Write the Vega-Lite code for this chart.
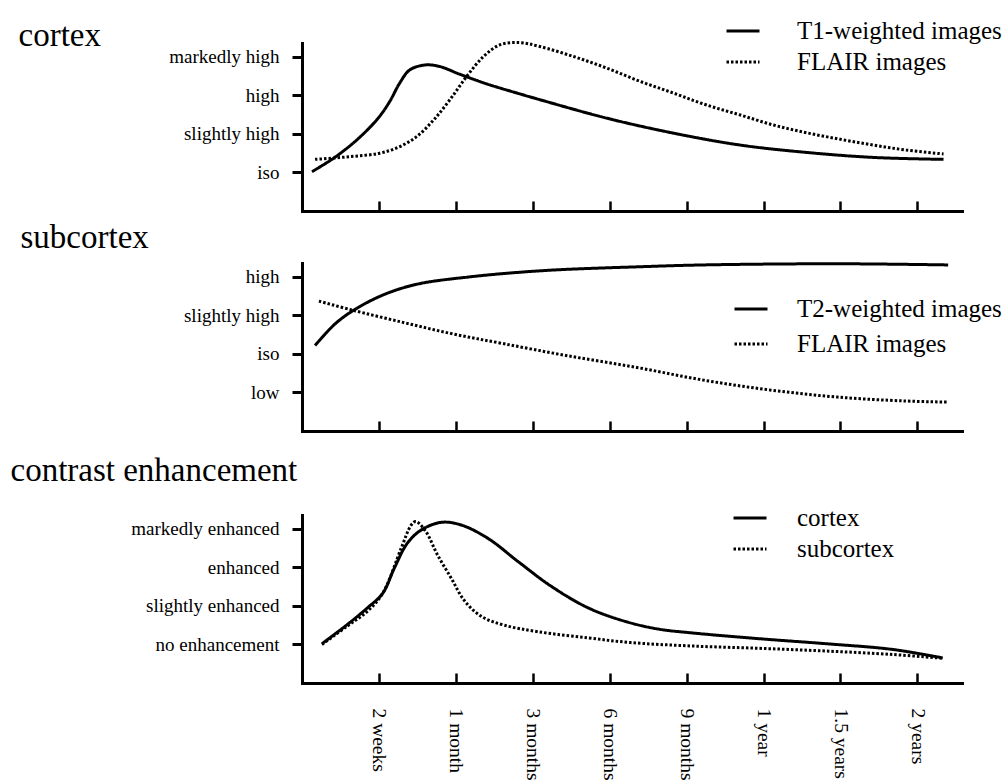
{
  "$schema": "https://vega.github.io/schema/vega-lite/v6.json",
  "background": "white",
  "padding": {"left": 10, "top": 13, "right": 2, "bottom": 2},
  "config": {
    "view": {"stroke": null},
    "font": "Liberation Serif",
    "line": {"interpolate": "catmull-rom", "stroke": "black", "strokeWidth": 3, "strokeCap": "butt"},
    "axis": {
      "domainColor": "black", "domainWidth": 3, "domainCap": "square",
      "tickColor": "black", "grid": false,
      "labelColor": "black", "labelFont": "Liberation Serif",
      "titleColor": "black", "titleFont": "Liberation Serif", "titleFontWeight": "normal"
    },
    "legend": {
      "orient": "none", "symbolType": "stroke", "symbolSize": 1089, "symbolStrokeWidth": 3,
      "symbolStrokeColor": "black", "labelFont": "Liberation Serif", "labelFontSize": 25,
      "labelColor": "black", "labelOffset": 37, "labelLimit": 400, "padding": 0, "titleFontSize": 0
    }
  },
  "datasets": {
    "d": [
      {"p": "cortex", "s": "T1-weighted images", "t": 0.13, "v": 1.02},
      {"p": "cortex", "s": "T1-weighted images", "t": 0.41, "v": 1.37},
      {"p": "cortex", "s": "T1-weighted images", "t": 0.71, "v": 1.84},
      {"p": "cortex", "s": "T1-weighted images", "t": 0.99, "v": 2.41},
      {"p": "cortex", "s": "T1-weighted images", "t": 1.14, "v": 2.84},
      {"p": "cortex", "s": "T1-weighted images", "t": 1.27, "v": 3.32},
      {"p": "cortex", "s": "T1-weighted images", "t": 1.4, "v": 3.66},
      {"p": "cortex", "s": "T1-weighted images", "t": 1.6, "v": 3.79},
      {"p": "cortex", "s": "T1-weighted images", "t": 1.79, "v": 3.75},
      {"p": "cortex", "s": "T1-weighted images", "t": 2.05, "v": 3.55},
      {"p": "cortex", "s": "T1-weighted images", "t": 2.4, "v": 3.3},
      {"p": "cortex", "s": "T1-weighted images", "t": 2.83, "v": 3.04},
      {"p": "cortex", "s": "T1-weighted images", "t": 3.09, "v": 2.89},
      {"p": "cortex", "s": "T1-weighted images", "t": 3.96, "v": 2.41},
      {"p": "cortex", "s": "T1-weighted images", "t": 4.83, "v": 2.02},
      {"p": "cortex", "s": "T1-weighted images", "t": 5.7, "v": 1.71},
      {"p": "cortex", "s": "T1-weighted images", "t": 6.56, "v": 1.52},
      {"p": "cortex", "s": "T1-weighted images", "t": 7.43, "v": 1.39},
      {"p": "cortex", "s": "T1-weighted images", "t": 8.34, "v": 1.34},
      {"p": "cortex", "s": "FLAIR images", "t": 0.17, "v": 1.34},
      {"p": "cortex", "s": "FLAIR images", "t": 0.62, "v": 1.41},
      {"p": "cortex", "s": "FLAIR images", "t": 1.01, "v": 1.5},
      {"p": "cortex", "s": "FLAIR images", "t": 1.27, "v": 1.67},
      {"p": "cortex", "s": "FLAIR images", "t": 1.49, "v": 1.93},
      {"p": "cortex", "s": "FLAIR images", "t": 1.71, "v": 2.36},
      {"p": "cortex", "s": "FLAIR images", "t": 1.92, "v": 2.88},
      {"p": "cortex", "s": "FLAIR images", "t": 2.14, "v": 3.49},
      {"p": "cortex", "s": "FLAIR images", "t": 2.36, "v": 4.01},
      {"p": "cortex", "s": "FLAIR images", "t": 2.57, "v": 4.31},
      {"p": "cortex", "s": "FLAIR images", "t": 2.83, "v": 4.37},
      {"p": "cortex", "s": "FLAIR images", "t": 3.09, "v": 4.27},
      {"p": "cortex", "s": "FLAIR images", "t": 3.53, "v": 4.01},
      {"p": "cortex", "s": "FLAIR images", "t": 3.96, "v": 3.71},
      {"p": "cortex", "s": "FLAIR images", "t": 4.4, "v": 3.36},
      {"p": "cortex", "s": "FLAIR images", "t": 4.83, "v": 3.06},
      {"p": "cortex", "s": "FLAIR images", "t": 5.26, "v": 2.75},
      {"p": "cortex", "s": "FLAIR images", "t": 5.7, "v": 2.49},
      {"p": "cortex", "s": "FLAIR images", "t": 6.13, "v": 2.23},
      {"p": "cortex", "s": "FLAIR images", "t": 6.56, "v": 2.03},
      {"p": "cortex", "s": "FLAIR images", "t": 7.0, "v": 1.86},
      {"p": "cortex", "s": "FLAIR images", "t": 7.43, "v": 1.71},
      {"p": "cortex", "s": "FLAIR images", "t": 7.86, "v": 1.58},
      {"p": "cortex", "s": "FLAIR images", "t": 8.34, "v": 1.48},
      {"p": "subcortex", "s": "T2-weighted images", "t": 0.17, "v": 2.22},
      {"p": "subcortex", "s": "T2-weighted images", "t": 0.43, "v": 2.78},
      {"p": "subcortex", "s": "T2-weighted images", "t": 0.7, "v": 3.17},
      {"p": "subcortex", "s": "T2-weighted images", "t": 1.09, "v": 3.56},
      {"p": "subcortex", "s": "T2-weighted images", "t": 1.52, "v": 3.82},
      {"p": "subcortex", "s": "T2-weighted images", "t": 2.18, "v": 4.0},
      {"p": "subcortex", "s": "T2-weighted images", "t": 2.83, "v": 4.12},
      {"p": "subcortex", "s": "T2-weighted images", "t": 3.39, "v": 4.19},
      {"p": "subcortex", "s": "T2-weighted images", "t": 4.35, "v": 4.26},
      {"p": "subcortex", "s": "T2-weighted images", "t": 5.22, "v": 4.31},
      {"p": "subcortex", "s": "T2-weighted images", "t": 6.96, "v": 4.34},
      {"p": "subcortex", "s": "T2-weighted images", "t": 8.4, "v": 4.31},
      {"p": "subcortex", "s": "FLAIR images", "t": 0.22, "v": 3.37},
      {"p": "subcortex", "s": "FLAIR images", "t": 0.65, "v": 3.14},
      {"p": "subcortex", "s": "FLAIR images", "t": 1.31, "v": 2.82},
      {"p": "subcortex", "s": "FLAIR images", "t": 1.96, "v": 2.52},
      {"p": "subcortex", "s": "FLAIR images", "t": 2.61, "v": 2.27},
      {"p": "subcortex", "s": "FLAIR images", "t": 3.43, "v": 1.96},
      {"p": "subcortex", "s": "FLAIR images", "t": 4.35, "v": 1.65},
      {"p": "subcortex", "s": "FLAIR images", "t": 5.22, "v": 1.32},
      {"p": "subcortex", "s": "FLAIR images", "t": 6.1, "v": 1.06},
      {"p": "subcortex", "s": "FLAIR images", "t": 6.96, "v": 0.88},
      {"p": "subcortex", "s": "FLAIR images", "t": 7.83, "v": 0.78},
      {"p": "subcortex", "s": "FLAIR images", "t": 8.4, "v": 0.75},
      {"p": "contrast", "s": "cortex", "t": 0.26, "v": 1.02},
      {"p": "contrast", "s": "cortex", "t": 0.59, "v": 1.52},
      {"p": "contrast", "s": "cortex", "t": 0.85, "v": 1.95},
      {"p": "contrast", "s": "cortex", "t": 1.05, "v": 2.33},
      {"p": "contrast", "s": "cortex", "t": 1.2, "v": 2.98},
      {"p": "contrast", "s": "cortex", "t": 1.37, "v": 3.63},
      {"p": "contrast", "s": "cortex", "t": 1.55, "v": 3.97},
      {"p": "contrast", "s": "cortex", "t": 1.81, "v": 4.17},
      {"p": "contrast", "s": "cortex", "t": 2.07, "v": 4.1},
      {"p": "contrast", "s": "cortex", "t": 2.42, "v": 3.75},
      {"p": "contrast", "s": "cortex", "t": 2.81, "v": 3.15},
      {"p": "contrast", "s": "cortex", "t": 3.24, "v": 2.51},
      {"p": "contrast", "s": "cortex", "t": 3.72, "v": 1.95},
      {"p": "contrast", "s": "cortex", "t": 4.2, "v": 1.6},
      {"p": "contrast", "s": "cortex", "t": 4.63, "v": 1.4},
      {"p": "contrast", "s": "cortex", "t": 5.07, "v": 1.3},
      {"p": "contrast", "s": "cortex", "t": 5.94, "v": 1.15},
      {"p": "contrast", "s": "cortex", "t": 6.81, "v": 1.02},
      {"p": "contrast", "s": "cortex", "t": 7.68, "v": 0.87},
      {"p": "contrast", "s": "cortex", "t": 8.33, "v": 0.65},
      {"p": "contrast", "s": "subcortex", "t": 0.26, "v": 1.0},
      {"p": "contrast", "s": "subcortex", "t": 0.59, "v": 1.48},
      {"p": "contrast", "s": "subcortex", "t": 0.85, "v": 1.86},
      {"p": "contrast", "s": "subcortex", "t": 1.05, "v": 2.33},
      {"p": "contrast", "s": "subcortex", "t": 1.29, "v": 3.5},
      {"p": "contrast", "s": "subcortex", "t": 1.42, "v": 4.1},
      {"p": "contrast", "s": "subcortex", "t": 1.48, "v": 4.19},
      {"p": "contrast", "s": "subcortex", "t": 1.61, "v": 3.93},
      {"p": "contrast", "s": "subcortex", "t": 1.76, "v": 3.33},
      {"p": "contrast", "s": "subcortex", "t": 1.94, "v": 2.72},
      {"p": "contrast", "s": "subcortex", "t": 2.11, "v": 2.14},
      {"p": "contrast", "s": "subcortex", "t": 2.33, "v": 1.73},
      {"p": "contrast", "s": "subcortex", "t": 2.63, "v": 1.5},
      {"p": "contrast", "s": "subcortex", "t": 3.07, "v": 1.33},
      {"p": "contrast", "s": "subcortex", "t": 3.72, "v": 1.17},
      {"p": "contrast", "s": "subcortex", "t": 4.27, "v": 1.05},
      {"p": "contrast", "s": "subcortex", "t": 5.07, "v": 0.96},
      {"p": "contrast", "s": "subcortex", "t": 5.94, "v": 0.9},
      {"p": "contrast", "s": "subcortex", "t": 6.81, "v": 0.83},
      {"p": "contrast", "s": "subcortex", "t": 7.68, "v": 0.74},
      {"p": "contrast", "s": "subcortex", "t": 8.33, "v": 0.64}
    ]
  },
  "bounds": "flush",
  "spacing": 52,
  "resolve": {"scale": {"strokeDash": "independent", "x": "independent", "y": "independent"}, "legend": {"strokeDash": "independent"}, "axis": {"x": "independent", "y": "independent"}},
  "vconcat": [
    {
      "width": 660, "height": 168,
      "data": {"name": "d"},
      "transform": [{"filter": "datum.p === 'cortex'"}],
      "mark": {"type": "line"},
      "encoding": {
        "x": {"field": "t", "type": "quantitative", "scale": {"domain": [0, 8.58], "nice": false, "zero": false},
          "axis": {"values": [1, 2, 3, 4, 5, 6, 7, 8], "labels": false, "tickSize": -10, "tickWidth": 2.5, "title": null}},
        "y": {"field": "v", "type": "quantitative", "scale": {"domain": [0, 4.36], "nice": false},
          "axis": {"values": [1, 2, 3, 4], "labelExpr": "['', 'iso', 'slightly high', 'high', 'markedly high'][datum.value]",
            "tickSize": 10, "tickWidth": 3, "labelFontSize": 19, "labelPadding": 13,
            "title": "cortex", "titleAngle": 0, "titleX": -284, "titleY": 2, "titleAlign": "left", "titleBaseline": "alphabetic", "titleFontSize": 33}},
        "strokeDash": {"field": "s", "type": "nominal",
          "scale": {"domain": ["T1-weighted images", "FLAIR images"], "range": [[1, 0], [2.5, 2]]},
          "legend": {"title": null, "orient": "none", "legendX": 423, "legendY": -30, "rowPadding": 0, "labelOffset": 36}}
      }
    },
    {
      "bounds": "flush",
      "spacing": 84,
      "resolve": {"scale": {"strokeDash": "independent", "x": "independent", "y": "independent"}, "legend": {"strokeDash": "independent"}, "axis": {"x": "independent", "y": "independent"}},
      "vconcat": [
        {
          "width": 660, "height": 168,
          "data": {"name": "d"},
          "transform": [{"filter": "datum.p === 'subcortex'"}],
          "mark": {"type": "line"},
          "encoding": {
            "x": {"field": "t", "type": "quantitative", "scale": {"domain": [0, 8.58], "nice": false, "zero": false},
              "axis": {"values": [1, 2, 3, 4, 5, 6, 7, 8], "labels": false, "tickSize": -10, "tickWidth": 2.5, "title": null}},
            "y": {"field": "v", "type": "quantitative", "scale": {"domain": [0, 4.36], "nice": false},
              "axis": {"values": [1, 2, 3, 4], "labelExpr": "['', 'low', 'iso', 'slightly high', 'high'][datum.value]",
                "tickSize": 10, "tickWidth": 3, "labelFontSize": 19, "labelPadding": 13,
                "title": "subcortex", "titleAngle": 0, "titleX": -282, "titleY": -16, "titleAlign": "left", "titleBaseline": "alphabetic", "titleFontSize": 33}},
            "strokeDash": {"field": "s", "type": "nominal",
              "scale": {"domain": ["T2-weighted images", "FLAIR images"], "range": [[1, 0], [2.5, 2]]},
              "legend": {"title": null, "orient": "none", "legendX": 431, "legendY": 28, "rowPadding": 4, "labelOffset": 28}}
          }
        },
        {
          "width": 660, "height": 168,
          "data": {"name": "d"},
          "transform": [{"filter": "datum.p === 'contrast'"}],
          "mark": {"type": "line"},
          "encoding": {
            "x": {"field": "t", "type": "quantitative", "scale": {"domain": [0, 8.58], "nice": false, "zero": false},
              "axis": {"values": [1, 2, 3, 4, 5, 6, 7, 8],
                "labelExpr": "['', '2 weeks', '1 month', '3 months', '6 months', '9 months', '1 year', '1.5 years', '2 years'][datum.value]",
                "labelAngle": 90, "labelFontSize": 19.5, "labelPadding": 35, "tickSize": -10, "tickWidth": 2.5, "title": null}},
            "y": {"field": "v", "type": "quantitative", "scale": {"domain": [0, 4.36], "nice": false},
              "axis": {"values": [1, 2, 3, 4], "labelExpr": "['', 'no enhancement', 'slightly enhanced', 'enhanced', 'markedly enhanced'][datum.value]",
                "tickSize": 10, "tickWidth": 3, "labelFontSize": 19, "labelPadding": 13,
                "title": "contrast enhancement", "titleAngle": 0, "titleX": -292, "titleY": -35, "titleAlign": "left", "titleBaseline": "alphabetic", "titleFontSize": 33}},
            "strokeDash": {"field": "s", "type": "nominal",
              "scale": {"domain": ["cortex", "subcortex"], "range": [[1, 0], [2.5, 2]]},
              "legend": {"title": null, "orient": "none", "legendX": 430, "legendY": -15, "rowPadding": -3, "labelOffset": 29}}
          }
        }
      ]
    }
  ]
}
